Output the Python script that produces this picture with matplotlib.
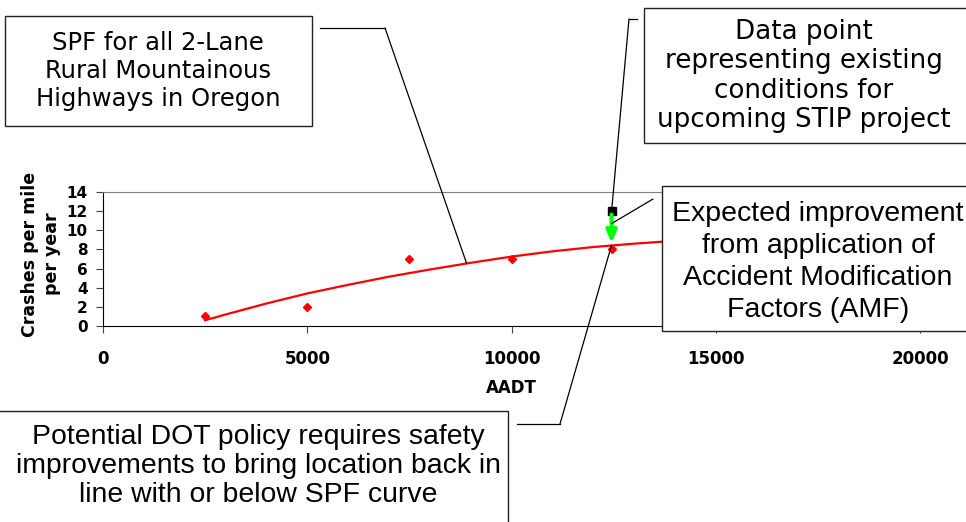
import matplotlib
matplotlib.use("Agg")
import matplotlib.pyplot as plt
from matplotlib.patches import Rectangle, ConnectionPatch
from matplotlib.lines import Line2D

# observed sites (AADT vs crashes per mile per year)
site_aadt = [2500, 5000, 7500, 10000, 12450]
site_crashes = [1, 2, 7, 7, 8]

# SPF curve
spf_aadt = [2500, 3000, 4000, 5000, 6000, 7000, 8000, 9000, 10000,
            11000, 12000, 13000, 14000, 15000]
spf_crashes = [0.6, 1.2, 2.35, 3.4, 4.3, 5.15, 5.9, 6.6, 7.25,
               7.8, 8.25, 8.6, 8.9, 9.2]

# STIP project location: existing and expected after AMF
stip_aadt = 12450
stip_existing = 12
stip_expected = 8.45

x_ticks = [0, 5000, 10000, 15000, 20000]
y_ticks = [0, 2, 4, 6, 8, 10, 12, 14]

W, H = 966, 522
fig = plt.figure(figsize=(W / 100, H / 100), dpi=100)


def fx(px):
    return px / W


def fy(py):
    return 1 - py / H


ax = fig.add_axes([fx(103), fy(326), fx(920) - fx(103), (326 - 192) / H])
ax.plot(spf_aadt, spf_crashes, color="red", lw=1.6, zorder=3)
ax.plot(site_aadt, site_crashes, ls="none", marker="D", ms=4.5,
        color="red", zorder=4)
ax.plot([stip_aadt], [stip_existing], ls="none", marker="s", ms=5.5,
        color="black", zorder=4)
ax.annotate("", xy=(stip_aadt, stip_expected), xytext=(stip_aadt, stip_existing),
            arrowprops=dict(arrowstyle="-|>,head_length=0.7,head_width=0.3",
                            color="#00ff00", lw=3, shrinkA=2.5, shrinkB=1.5),
            zorder=5)

ax.set_xlim(0, 20000)
ax.set_ylim(0, 14)
ax.set_xticks(x_ticks)
ax.set_yticks(y_ticks)
ax.set_xticklabels([str(v) for v in x_ticks], fontsize=12, fontweight="bold")
ax.set_yticklabels([str(v) for v in y_ticks], fontsize=11, fontweight="bold")
ax.tick_params(axis="x", direction="out", length=5, pad=12, color="#444444")
ax.tick_params(axis="y", direction="out", length=5, pad=6, color="#444444")
ax.set_xlabel("AADT", fontsize=12, fontweight="bold", labelpad=8)
for side in ["top", "right"]:
    ax.spines[side].set_color("#808080")
for side in ["left", "bottom"]:
    ax.spines[side].set_color("black")

fig.text(fx(41), fy(254), "Crashes per mile\nper year", rotation=90,
         ha="center", va="center", multialignment="center",
         fontsize=12.5, fontweight="bold", linespacing=1.25)


def note_box(x0, y0, x1, y1, text, cx, cy, size, family, ls):
    fig.add_artist(Rectangle((fx(x0), fy(y1)), fx(x1) - fx(x0), (y1 - y0) / H,
                             transform=fig.transFigure, facecolor="white",
                             edgecolor="#222222", lw=1, zorder=6))
    fig.text(fx(cx), fy(cy), text, ha="center", va="center",
             multialignment="center", fontsize=size, family=family,
             linespacing=ls, zorder=7)


def leader(pts, end):
    xs = [fx(p[0]) for p in pts]
    ys = [fy(p[1]) for p in pts]
    fig.add_artist(Line2D(xs, ys, transform=fig.transFigure,
                          color="black", lw=0.9, zorder=5))
    con = ConnectionPatch(xyA=(xs[-1], ys[-1]), coordsA=fig.transFigure,
                          xyB=end, coordsB=ax.transData,
                          color="black", lw=0.9, zorder=5)
    fig.add_artist(con)


note_box(5, 16, 312, 126, "SPF for all 2-Lane\nRural Mountainous\nHighways in Oregon",
         158, 71, 17.5, "DejaVu Sans", 1.23)
note_box(644, 8, 975, 143,
         "Data point\nrepresenting existing\nconditions for\nupcoming STIP project",
         804, 76, 18.8, "DejaVu Sans", 1.18)
note_box(662, 186, 975, 331,
         "Expected improvement\nfrom application of\nAccident Modification\nFactors (AMF)",
         818, 262, 20.5, "Liberation Sans", 1.3)
note_box(-5, 411, 508, 540,
         "Potential DOT policy requires safety\nimprovements to bring location back in\nline with or below SPF curve",
         258, 466, 20.4, "Liberation Sans", 1.17)

leader([(320, 28), (385, 28)], (8900, 6.55))
leader([(637, 19), (629, 19)], (stip_aadt, stip_existing))
leader([(653, 199)], (stip_aadt, 10.7))
leader([(517, 424), (560, 424)], (stip_aadt, stip_expected))

fig.savefig("out.png", dpi=100)
